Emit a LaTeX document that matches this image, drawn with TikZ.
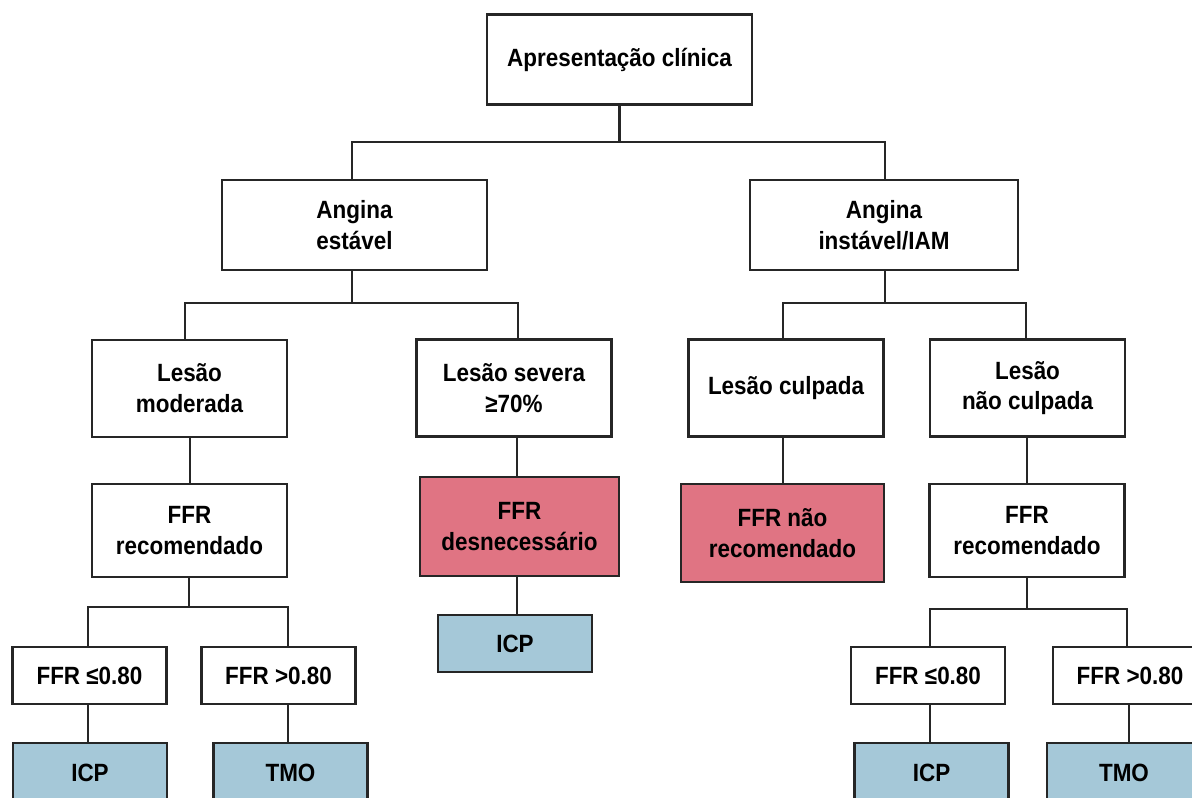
\documentclass[tikz,border=0pt]{standalone}
\usepackage{fontspec}
\setmainfont{Liberation Sans}[FakeStretch=0.9]
\begin{document}
\begin{tikzpicture}[x=0.02cm,y=-0.02cm]
  % Colors
  \definecolor{redbox}{RGB}{224,116,131}
  \definecolor{bluebox}{RGB}{165,200,216}

  % Styles
  \tikzstyle{box}=[draw=black!85,line width=1.4pt,fill=white,align=center,
    inner sep=2pt,font=\fontsize{14.2}{17.5}\selectfont\bfseries]
  \tikzstyle{big box}=[box,minimum width=5.3cm,minimum height=1.8cm]
  \tikzstyle{mid box}=[box,minimum width=3.9cm,minimum height=1.94cm]
  \tikzstyle{small box}=[box,minimum width=3.08cm,minimum height=1.14cm]
  \tikzstyle{result box}=[small box,fill=bluebox,minimum height=1.2cm]
  \tikzstyle{link}=[line width=1.4pt,black!85]

  \path[use as bounding box,clip] (0,0) rectangle (1192,797);

  % The graphic
  \node[big box] (clin) at (619.5,59.5) {Apresentação clínica};

  \node[big box] (stab) at (354.5,225) {Angina\\estável};
  \node[big box,minimum width=5.36cm] (unst) at (884,225) {Angina\\instável/IAM};

  \node[mid box] (lmod) at (189.5,388.5) {Lesão\\moderada};
  \node[mid box] (lsev) at (514,388) {Lesão severa\\≥70\%};
  \node[mid box] (lcul) at (786,388) {Lesão culpada};
  \node[mid box] (lnot) at (1027.5,388) {Lesão\\não culpada};

  \node[mid box,minimum height=1.86cm] (recl) at (189.5,530.5) {FFR\\recomendado};
  \node[mid box,fill=redbox,minimum width=3.98cm,minimum height=1.98cm]
    (desn) at (519.5,526.5) {FFR\\desnecessário};
  \node[mid box,fill=redbox,minimum width=4.06cm,minimum height=1.96cm]
    (nrec) at (782.5,533) {FFR não\\recomendado};
  \node[mid box,minimum height=1.86cm] (recr) at (1027,530.5) {FFR\\recomendado};

  \node[small box] (lowl) at (89.5,675.5) {FFR ≤0.80};
  \node[small box] (higl) at (278.5,675.5) {FFR >0.80};
  \node[result box,minimum height=1.14cm] (icpm) at (515,643.5) {ICP};
  \node[small box] (lowr) at (928,675.5) {FFR ≤0.80};
  \node[small box] (higr) at (1130,675.5) {FFR >0.80};

  \node[result box] (icpl) at (90,773) {ICP};
  \node[result box] (tmol) at (290.5,773) {TMO};
  \node[result box] (icpr) at (931.5,773) {ICP};
  \node[result box] (tmor) at (1124,773) {TMO};

  % Connectors
  \coordinate (j1) at (621,142);
  \coordinate (j2) at (352,303);
  \coordinate (j3) at (885,303);
  \coordinate (j4) at (189,607);
  \coordinate (j5) at (1027,609);

  \draw[link] (clin.south) -- (clin.south |- j1);
  \draw[link] (stab.north -| 352,0) |- (j1) -| (unst.north -| 885,0);

  \draw[link] (stab.south -| j2) -- (j2);
  \draw[link] (lmod.north -| 185,0) |- (j2) -| (lsev.north -| 518,0);
  \draw[link] (unst.south -| j3) -- (j3);
  \draw[link] (lcul.north -| 783,0) |- (j3) -| (lnot.north -| 1026,0);

  \draw[link] (lmod.south -| 190,0) -- (recl.north -| 190,0);
  \draw[link] (lsev.south -| 517,0) -- (desn.north -| 517,0);
  \draw[link] (lcul.south -| 783,0) -- (nrec.north -| 783,0);
  \draw[link] (lnot.south -| 1027,0) -- (recr.north -| 1027,0);

  \draw[link] (recl.south -| j4) -- (j4);
  \draw[link] (lowl.north -| 88,0) |- (j4) -| (higl.north -| 288,0);
  \draw[link] (desn.south -| 517,0) -- (icpm.north -| 517,0);
  \draw[link] (recr.south -| j5) -- (j5);
  \draw[link] (lowr.north -| 930,0) |- (j5) -| (higr.north -| 1127,0);

  \draw[link] (lowl.south -| 88,0) -- (icpl.north -| 88,0);
  \draw[link] (higl.south -| 288,0) -- (tmol.north -| 288,0);
  \draw[link] (lowr.south -| 930,0) -- (icpr.north -| 930,0);
  \draw[link] (higr.south -| 1129,0) -- (tmor.north -| 1129,0);
\end{tikzpicture}
\end{document}
